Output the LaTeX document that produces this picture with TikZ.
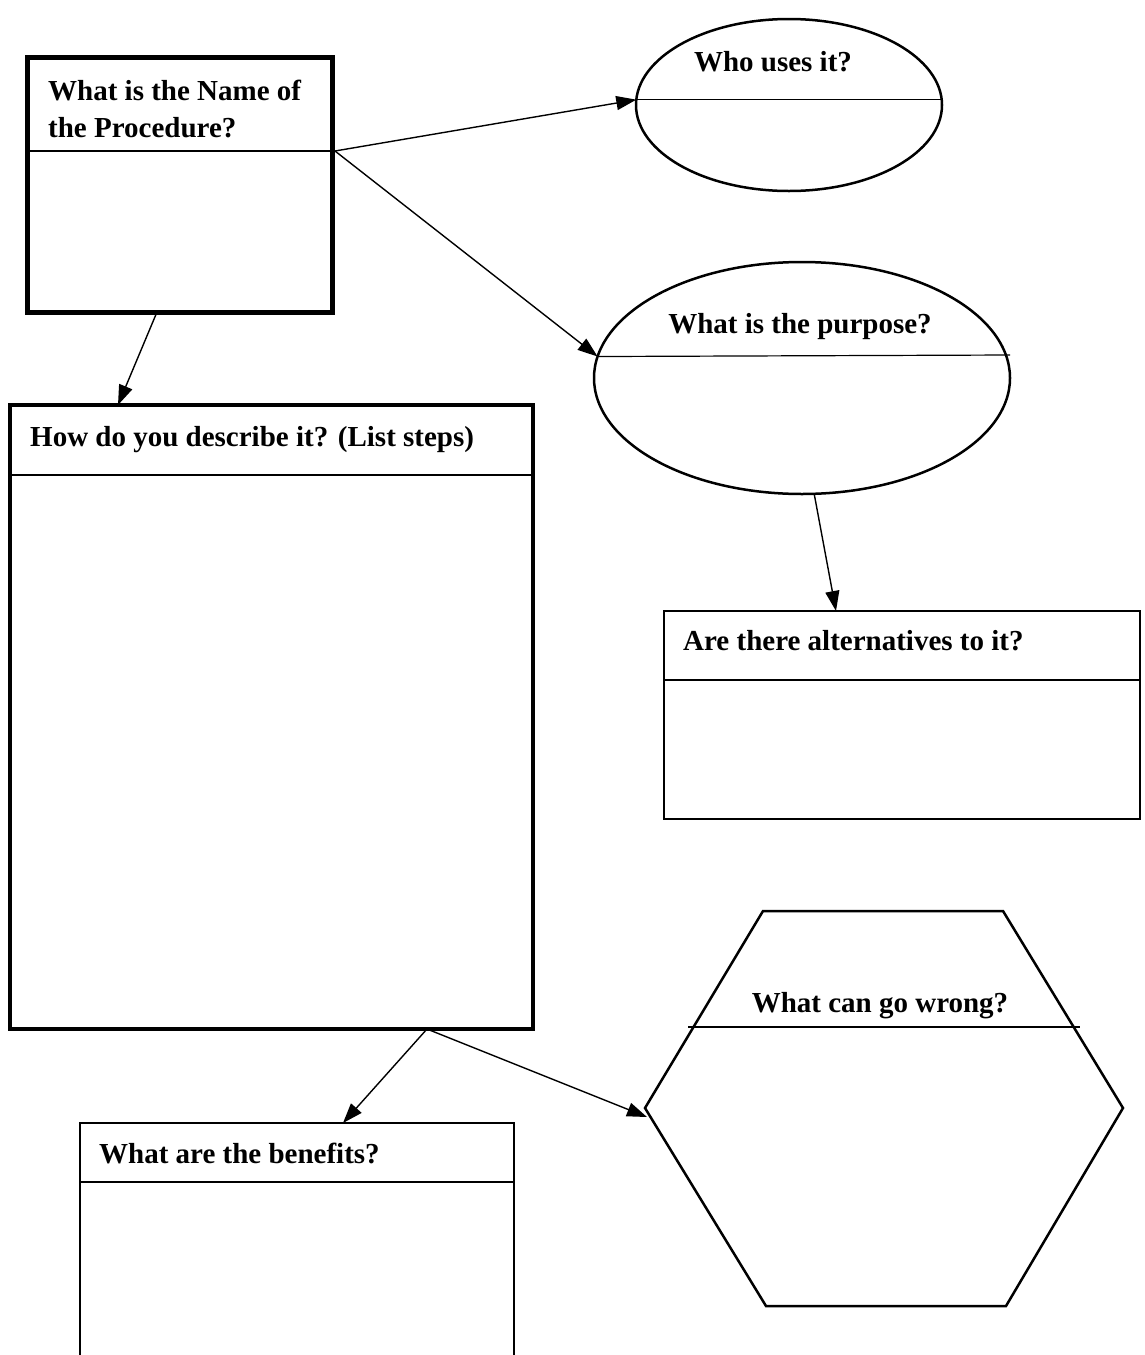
\documentclass[tikz,border=0pt]{standalone}
\usepackage{fontspec}
\setmainfont{Liberation Serif}
\usetikzlibrary{arrows.meta,shapes.geometric,calc}
\begin{document}
\begin{tikzpicture}[x=1pt,y=-1pt,
  box/.style={draw=black, rectangle, inner sep=0pt, outer sep=0pt, anchor=north west},
  oval/.style={draw=black, ellipse, inner sep=0pt, outer sep=0pt, line width=2.5pt},
  divider/.style={line width=1.2pt},
  lbl/.style={inner sep=0pt, font=\fontsize{29}{37}\selectfont\bfseries},
  conn/.style={line width=1.4pt, -{Triangle[length=20pt,width=14pt]}}
]
\useasboundingbox (0,0) rectangle (1144,1355);
% Name box
\node[box, line width=5pt, minimum width=305pt, minimum height=255pt] (name) at (27,57) {};
\draw[divider] (27,151) -- (335,151);
\coordinate (nameR) at (335,151);
\node[lbl, anchor=base west] (nameT1) at (48,100) {What is the Name of};
\node[lbl, anchor=base west] (nameT2) at (48,137) {the Procedure?};
% Who uses it
\node[oval, minimum width=306pt, minimum height=172pt] (who) at (789,105) {};
\draw[divider] (who.178) -- (who.2);
\node[lbl, anchor=base] (whoT) at (773,71) {Who uses it?};
% Purpose
\node[oval, minimum width=416pt, minimum height=232pt] (purpose) at (802,378) {};
\draw[divider] (purpose.174) -- (1010,355);
\node[lbl, anchor=base] (purposeT) at (800,333) {What is the purpose?};
% Alternatives
\node[box, line width=2.5pt, minimum width=476pt, minimum height=208pt] (alt) at (664,611) {};
\draw[divider] (664,680) -- (1140,680);
\node[lbl, anchor=base west] (altT) at (683,650) {Are there alternatives to it?};
% Describe
\node[box, line width=4pt, minimum width=523pt, minimum height=624pt] (desc) at (10,405) {};
\draw[divider] (10,475) -- (533,475);
\node[lbl, anchor=base west] (descT) at (30,446) {How do you describe it? (List steps)};
% Benefits
\node[box, line width=2.5pt, minimum width=434pt, minimum height=240pt] (ben) at (80,1123) {};
\draw[divider] (80,1182) -- (514,1182);
\node[lbl, anchor=base west] (benT) at (99,1163) {What are the benefits?};
% Hexagon
\draw[line width=2.5pt, line join=miter] (763,911) -- (1003,911) -- (1123,1108) -- (1006,1306) -- (766,1306) -- (645,1108) -- cycle;
\coordinate (hexL) at (647,1117);
\draw[divider] (688,1027) -- (1080,1027);
\node[lbl, anchor=base] (hexT) at (880,1012) {What can go wrong?};
% Connectors
\draw[conn] (nameR) -- (who.178);
\draw[conn] (nameR) -- (purpose.174);
\draw[conn] ($(name.south west)+(130,0)$) -- ($(desc.north west)+(108,0)$);
\draw[conn] (purpose.-84) -- ($(alt.north west)+(172,0)$);
\draw[conn] ($(desc.south west)+(417,0)$) -- ($(ben.north west)+(263,0)$);
\draw[conn] ($(desc.south west)+(417,0)$) -- (hexL);
\end{tikzpicture}
\end{document}
